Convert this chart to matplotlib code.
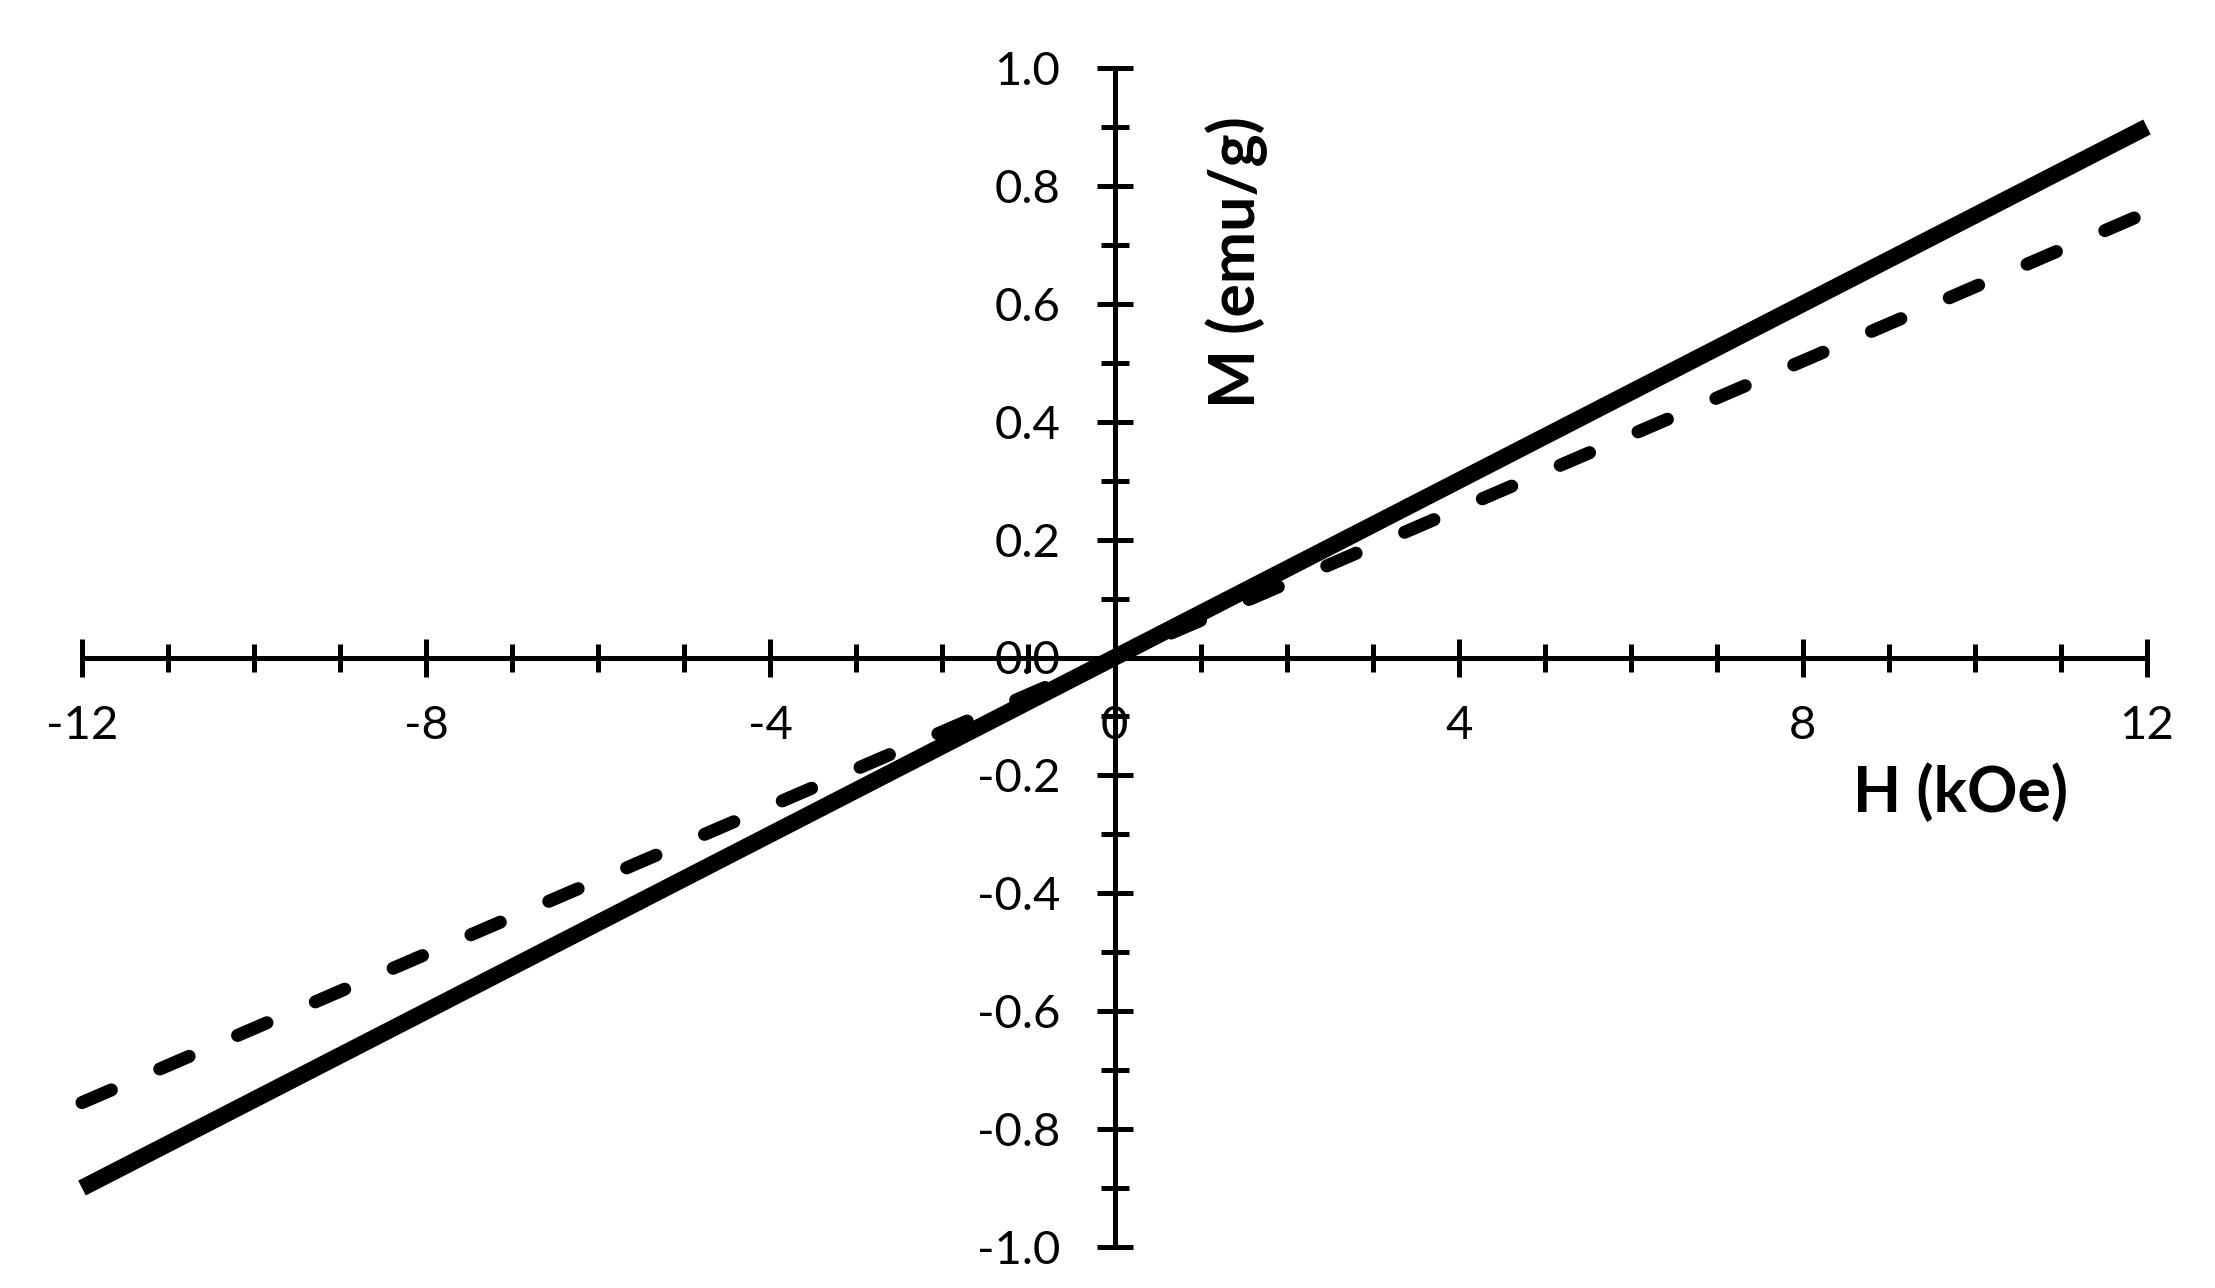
import numpy as np
import matplotlib.pyplot as plt
from matplotlib.ticker import MultipleLocator

# data
H = [-12, -8, -4, 0, 4, 8, 12]
M_solid = [-0.90, -0.60, -0.30, 0.0, 0.30, 0.60, 0.90]
M_dashed = [-0.755, -0.503, -0.252, 0.0, 0.252, 0.503, 0.755]
xticks = [-12, -8, -4, 0, 4, 8, 12]
yticks = [-1.0, -0.8, -0.6, -0.4, -0.2, 0.0, 0.2, 0.4, 0.6, 0.8, 1.0]

plt.rcParams['font.family'] = ['Lato', 'DejaVu Sans']
plt.rcParams['lines.scale_dashes'] = False

fig = plt.figure(figsize=(22.15, 12.88), dpi=100)
ax = fig.add_axes([82 / 2215, 1 - 1247 / 1288, (2147 - 82) / 2215, (1247 - 68) / 1288])

ax.plot(H, M_solid, color='black', lw=12, solid_capstyle='butt', clip_on=False, zorder=3)
ax.plot(H, M_dashed, color='black', lw=9.4, ls=(0, (23, 38)),
        dash_capstyle='round', clip_on=False, zorder=3)

ax.set_xlim(-12, 12)
ax.set_ylim(-1, 1)

# axes crossing at the origin
for s in ['top', 'right']:
    ax.spines[s].set_visible(False)
ax.spines['left'].set_position(('data', 0))
ax.spines['bottom'].set_position(('data', 0))
ax.spines['left'].set_linewidth(3.6)
ax.spines['bottom'].set_linewidth(3.6)

ax.set_xticks(xticks)
ax.set_xticklabels([str(t) for t in xticks])
ax.set_yticks(yticks)
ax.set_yticklabels(['%.1f' % t for t in yticks])
ax.xaxis.set_minor_locator(MultipleLocator(1))
ax.yaxis.set_minor_locator(MultipleLocator(0.1))

ax.tick_params(axis='x', which='major', direction='inout', length=28, width=3.6,
               labelsize=34, pad=20)
ax.tick_params(axis='y', which='major', direction='inout', length=26, width=3.6,
               labelsize=34, pad=26)
ax.tick_params(which='minor', direction='inout', length=20, width=3.6)

ax.text(9.83, -0.23, 'H (kOe)', fontsize=45, fontweight='bold', ha='center', va='center')
ax.text(1.42, 0.67, 'M (emu/g)', fontsize=45, fontweight='bold', rotation=90,
        ha='center', va='center')

fig.savefig('out.png', dpi=100, facecolor='white')
